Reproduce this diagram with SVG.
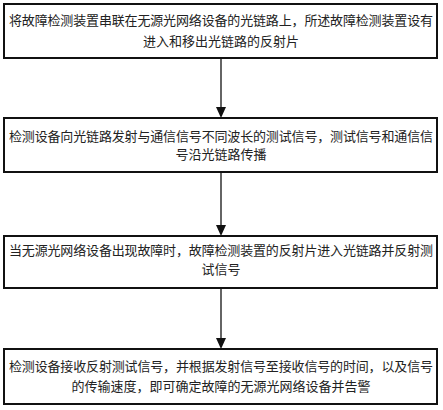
<svg xmlns="http://www.w3.org/2000/svg" width="443" height="410" viewBox="0 0 443 410">
<style>
.box{fill:#fff;stroke:#111;stroke-width:2}
.t{font-family:"Noto Sans CJK SC","Noto Sans CJK JP",sans-serif;font-size:13px;fill:#222;text-anchor:middle}
.c{stroke:#111;stroke-width:1.3;fill:none}
</style>
<defs>
<marker id="ah" markerWidth="10" markerHeight="11" refX="5" refY="11" orient="auto-start-reverse" markerUnits="userSpaceOnUse" viewBox="0 0 10 11">
<path d="M0,0 L10,0 L5,11 Z" fill="#111" transform="rotate(0)"/>
</marker>
</defs>
<rect width="443" height="410" fill="#fff"/>
<g id="connectors">
<line class="c" x1="221" y1="58" x2="221" y2="107"/>
<path d="M216,107 L226,107 L221,118 Z" fill="#111"/>
<line class="c" x1="221" y1="172" x2="221" y2="225"/>
<path d="M216,225 L226,225 L221,236 Z" fill="#111"/>
<line class="c" x1="221" y1="288" x2="221" y2="338"/>
<path d="M216,338 L226,338 L221,349 Z" fill="#111"/>
</g>
<g id="node1">
<rect class="box" x="4" y="4" width="433" height="54"/>
<text class="t" x="221" y="25" textLength="424" lengthAdjust="spacing">将故障检测装置串联在无源光网络设备的光链路上，所述故障检测装置设有</text>
<text class="t" x="221" y="46">进入和移出光链路的反射片</text>
</g>
<g id="node2">
<rect class="box" x="4" y="118" width="433" height="54"/>
<text class="t" x="221" y="141" textLength="424" lengthAdjust="spacing">检测设备向光链路发射与通信信号不同波长的测试信号，测试信号和通信信</text>
<text class="t" x="221" y="159">号沿光链路传播</text>
</g>
<g id="node3">
<rect class="box" x="4" y="236" width="433" height="52"/>
<text class="t" x="221" y="255" textLength="424" lengthAdjust="spacing">当无源光网络设备出现故障时，故障检测装置的反射片进入光链路并反射测</text>
<text class="t" x="221" y="274">试信号</text>
</g>
<g id="node4">
<rect class="box" x="4" y="349" width="433" height="55"/>
<text class="t" x="221" y="371" textLength="424" lengthAdjust="spacing">检测设备接收反射测试信号，并根据发射信号至接收信号的时间，以及信号</text>
<text class="t" x="221" y="391">的传输速度，即可确定故障的无源光网络设备并告警</text>
</g>
</svg>
